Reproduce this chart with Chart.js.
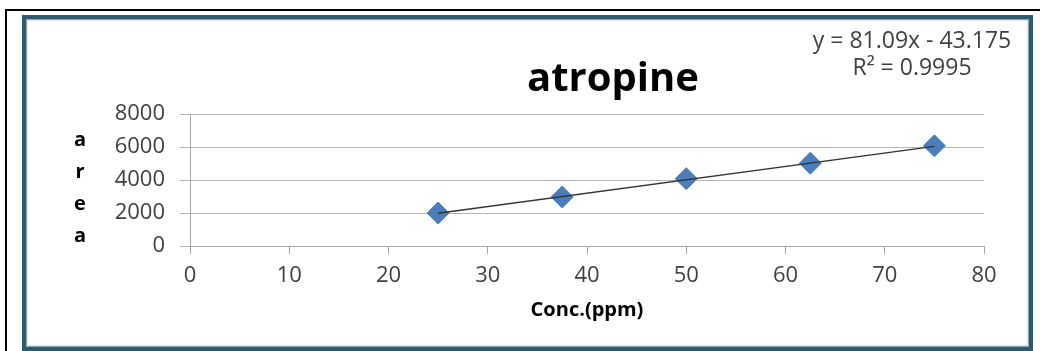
<!DOCTYPE html>
<html>
<head>
<meta charset="utf-8">
<script src="https://cdn.jsdelivr.net/npm/chart.js@4.4.1/dist/chart.umd.min.js"></script>
<style>
  html, body { margin: 0; padding: 0; background: #fff; }
  canvas { display: block; }
</style>
</head>
<body>
<canvas id="grafico" width="1040" height="351"></canvas>
<script>
// dados
const conc = [25, 37.5, 50, 62.5, 75];
const area = [2000, 2970, 4080, 5020, 6070];
// linha de tendencia (extremos)
const trendX = [25, 75];
const trendY = [1985, 6040];

const xTicks = [0, 10, 20, 30, 40, 50, 60, 70, 80];
const yTicks = [0, 2000, 4000, 6000, 8000];

const titulo = 'atropine';
const equacao = 'y = 81.09x - 43.175';
const r2 = 'R² = 0.9995';
const tituloY = 'area';
const tituloX = 'Conc.(ppm)';

const fonte = "'Open Sans', sans-serif";

// moldura e textos extras
const molduraPlugin = {
    id: 'moldura',
    beforeDraw(chart) {
        const ctx = chart.ctx;
        ctx.save();
        ctx.fillStyle = '#ffffff';
        ctx.fillRect(0, 0, chart.width, chart.height);
        // borda preta externa
        ctx.strokeStyle = '#000000';
        ctx.lineWidth = 2;
        ctx.beginPath();
        ctx.moveTo(6, 360);
        ctx.lineTo(6, 10);
        ctx.lineTo(1045, 10);
        ctx.stroke();
        // borda azulada
        ctx.lineWidth = 4;
        ctx.strokeStyle = '#2f5a6c';
        ctx.strokeRect(24, 17, 1007, 332);
        ctx.lineWidth = 1;
        ctx.strokeStyle = '#8eaab6';
        ctx.strokeRect(26.5, 19.5, 1002, 327);
        ctx.strokeStyle = '#dbe5ea';
        ctx.strokeRect(27.5, 20.5, 1000, 325);
        ctx.restore();
    },
    afterDraw(chart) {
        const ctx = chart.ctx;
        ctx.save();
        ctx.textAlign = 'center';
        ctx.textBaseline = 'middle';
        ctx.fillStyle = '#000000';
        ctx.font = "bold 40px " + fonte;
        ctx.fillText(titulo, 613, 80);
        ctx.fillStyle = '#404040';
        ctx.font = "23px " + fonte;
        ctx.fillText(equacao, 912, 41);
        ctx.fillText(r2, 912, 68);
        ctx.fillStyle = '#000000';
        ctx.font = "bold 20px " + fonte;
        tituloY.split('').forEach((letra, i) => {
            ctx.fillText(letra, 80, 140 + i * 32);
        });
        ctx.restore();
    }
};

const ctx = document.getElementById('grafico').getContext('2d');

const config = {
    type: 'scatter',
    data: {
        datasets: [
            {
                label: 'Linear',
                data: trendX.map((x, i) => ({ x: x, y: trendY[i] })),
                showLine: true,
                borderColor: '#333333',
                borderWidth: 1.3,
                pointRadius: 0,
                fill: false
            },
            {
                label: 'area',
                data: conc.map((x, i) => ({ x: x, y: area[i] })),
                pointStyle: 'rectRot',
                pointRadius: 11,
                backgroundColor: '#4a7ebb',
                borderColor: '#4a7ebb',
                borderWidth: 1
            }
        ]
    },
    options: {
        responsive: false,
        animation: false,
        layout: {
            padding: { left: 0, right: 56, top: 114, bottom: 0 }
        },
        scales: {
            x: {
                type: 'linear',
                min: 0,
                max: 80,
                afterFit: (scale) => { scale.height = 105; },
                afterBuildTicks: (scale) => { scale.ticks = xTicks.map(v => ({ value: v })); },
                grid: {
                    drawOnChartArea: false,
                    drawTicks: true,
                    tickLength: 8,
                    color: '#a6a6a6'
                },
                border: { display: true, color: '#a6a6a6', width: 1 },
                ticks: {
                    color: '#404040',
                    padding: 9,
                    maxRotation: 0,
                    callback: (v) => String(v),
                    font: { family: fonte, size: 22 }
                },
                title: {
                    display: true,
                    text: tituloX,
                    color: '#000000',
                    font: { family: fonte, size: 20, weight: 'bold' },
                    padding: { top: 0, bottom: 29 }
                }
            },
            y: {
                min: 0,
                max: 8000,
                afterFit: (scale) => { scale.width = 190; },
                afterBuildTicks: (scale) => { scale.ticks = yTicks.map(v => ({ value: v })); },
                grid: {
                    color: '#b4b4b4',
                    tickLength: 10
                },
                border: { display: true, color: '#a6a6a6', width: 1 },
                ticks: {
                    color: '#404040',
                    padding: 15,
                    callback: (v) => String(v),
                    font: { family: fonte, size: 22 }
                }
            }
        },
        plugins: {
            legend: { display: false },
            tooltip: { enabled: false },
            title: { display: false }
        }
    },
    plugins: [molduraPlugin]
};

const myChart = new Chart(ctx, config);
</script>
</body>
</html>
